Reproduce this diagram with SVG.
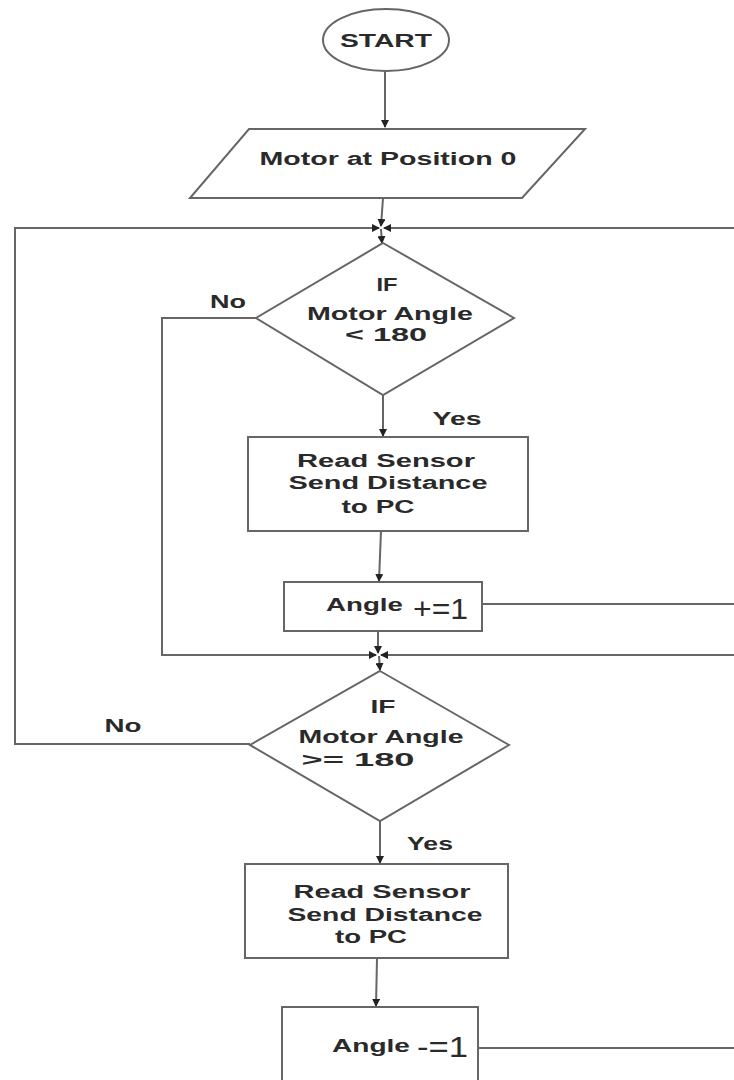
<svg xmlns="http://www.w3.org/2000/svg" width="734" height="1080" viewBox="0 0 734 1080">
<style>
.s{fill:#fff;stroke:#666;stroke-width:2}
.c{fill:none;stroke:#666;stroke-width:2}
.t{font-family:"Liberation Sans",Arial,sans-serif;font-weight:bold;font-size:18px;fill:#2a2a2a;text-anchor:middle}
.l{font-family:"Liberation Sans",Arial,sans-serif;font-weight:bold;font-size:18px;fill:#2a2a2a}
.b{font-family:"Liberation Sans",Arial,sans-serif;font-size:30px;fill:#2a2a2a}
</style>
<defs>
<marker id="a" markerWidth="8" markerHeight="8" refX="7" refY="4" orient="auto" markerUnits="userSpaceOnUse">
<path d="M0,0 L8,4 L0,8 Z" fill="#222"/>
</marker>
</defs>
<rect width="734" height="1080" fill="#fff"/>
<g id="connectors">
<line class="c" x1="385" y1="72" x2="385" y2="127" marker-end="url(#a)"/>
<line class="c" x1="383" y1="198" x2="381" y2="226" marker-end="url(#a)"/>
<polyline class="c" points="250,744 15,744 15,228 379,228" marker-end="url(#a)"/>
<line class="c" x1="734" y1="228" x2="384" y2="228" marker-end="url(#a)"/>
<line class="c" x1="381" y1="229" x2="382" y2="243" marker-end="url(#a)"/>
<polyline class="c" points="256,318 162,318 162,655 376,655" marker-end="url(#a)"/>
<line class="c" x1="383" y1="395" x2="383" y2="436" marker-end="url(#a)"/>
<line class="c" x1="381" y1="531" x2="379" y2="581" marker-end="url(#a)"/>
<line class="c" x1="482" y1="604" x2="734" y2="604"/>
<line class="c" x1="734" y1="655" x2="381" y2="655" marker-end="url(#a)"/>
<line class="c" x1="378" y1="631" x2="378" y2="653" marker-end="url(#a)"/>
<line class="c" x1="379" y1="656" x2="380" y2="670" marker-end="url(#a)"/>
<line class="c" x1="380" y1="821" x2="380" y2="863" marker-end="url(#a)"/>
<line class="c" x1="377" y1="958" x2="376" y2="1006" marker-end="url(#a)"/>
<line class="c" x1="478" y1="1048" x2="734" y2="1048"/>
</g>
<g id="start">
<ellipse class="s" cx="386" cy="40" rx="63" ry="31"/>
<text class="t" x="386" y="47" textLength="92" lengthAdjust="spacingAndGlyphs">START</text>
</g>
<g id="init">
<polygon class="s" points="249,129 585,129 522,198 190,198"/>
<text class="t" x="388" y="165" textLength="257" lengthAdjust="spacingAndGlyphs">Motor at Position 0</text>
</g>
<g id="dec1">
<polygon class="s" points="383,243 514,318 383,395 256,318"/>
<text class="t" x="387" y="291" textLength="21" lengthAdjust="spacingAndGlyphs">IF</text>
<text class="t" x="390" y="320" textLength="166" lengthAdjust="spacingAndGlyphs">Motor Angle</text>
<text class="t" x="386" y="341" textLength="82" lengthAdjust="spacingAndGlyphs">&lt; 180</text>
<text class="t" x="228" y="308" textLength="36" lengthAdjust="spacingAndGlyphs">No</text>
<text class="t" x="457" y="425" textLength="49" lengthAdjust="spacingAndGlyphs">Yes</text>
</g>
<g id="read1">
<rect class="s" x="248" y="437" width="280" height="94"/>
<text class="t" x="386" y="467" textLength="178" lengthAdjust="spacingAndGlyphs">Read Sensor</text>
<text class="t" x="388" y="489" textLength="199" lengthAdjust="spacingAndGlyphs">Send Distance</text>
<text class="t" x="378" y="513" textLength="73" lengthAdjust="spacingAndGlyphs">to PC</text>
</g>
<g id="inc">
<rect class="s" x="284" y="582" width="198" height="49"/>
<text class="l" x="326" y="611" textLength="77" lengthAdjust="spacingAndGlyphs">Angle</text>
<text class="b" x="413" y="619" textLength="55" lengthAdjust="spacingAndGlyphs">+=1</text>
</g>
<g id="dec2">
<polygon class="s" points="380,671 509,745 380,821 250,745"/>
<text class="t" x="383" y="713" textLength="25" lengthAdjust="spacingAndGlyphs">IF</text>
<text class="t" x="381" y="743" textLength="165" lengthAdjust="spacingAndGlyphs">Motor Angle</text>
<text class="t" x="358" y="766" textLength="113" lengthAdjust="spacingAndGlyphs">&gt;= 180</text>
<text class="t" x="123" y="732" textLength="37" lengthAdjust="spacingAndGlyphs">No</text>
<text class="t" x="430" y="850" textLength="46" lengthAdjust="spacingAndGlyphs">Yes</text>
</g>
<g id="read2">
<rect class="s" x="245" y="864" width="263" height="94"/>
<text class="t" x="382" y="898" textLength="177" lengthAdjust="spacingAndGlyphs">Read Sensor</text>
<text class="t" x="385" y="921" textLength="195" lengthAdjust="spacingAndGlyphs">Send Distance</text>
<text class="t" x="371" y="943" textLength="72" lengthAdjust="spacingAndGlyphs">to PC</text>
</g>
<g id="dec">
<rect class="s" x="282" y="1007" width="196" height="80"/>
<text class="l" x="332" y="1052" textLength="78" lengthAdjust="spacingAndGlyphs">Angle</text>
<text class="b" x="417" y="1057" textLength="51" lengthAdjust="spacingAndGlyphs">-=1</text>
</g>
</svg>
